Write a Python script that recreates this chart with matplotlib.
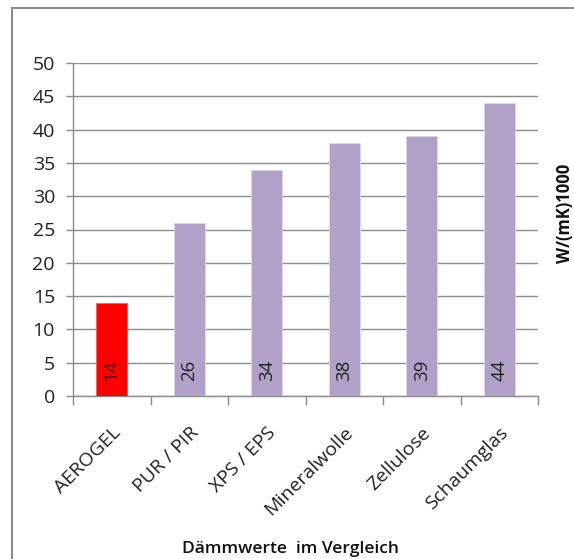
import matplotlib
matplotlib.use("Agg")
import matplotlib.pyplot as plt
from matplotlib.patches import Rectangle

categories = ["AEROGEL", "PUR / PIR", "XPS / EPS", "Mineralwolle", "Zellulose", "Schaumglas"]
values = [14, 26, 34, 38, 39, 44]
colors = ["#FF0000", "#B1A0C7", "#B1A0C7", "#B1A0C7", "#B1A0C7", "#B1A0C7"]
yticks = [0, 5, 10, 15, 20, 25, 30, 35, 40, 45, 50]

plt.rcParams['font.family'] = ['Open Sans', 'DejaVu Sans']

W, H = 574, 559
fig = plt.figure(figsize=(W / 100, H / 100), dpi=100)
ax = fig.add_axes([73 / W, 1 - 396 / H, (538 - 73) / W, (396 - 63) / H])

x = list(range(len(categories)))
bars = ax.bar(x, values, width=0.4, color=colors, edgecolor="#DDD6E8", linewidth=0.6, zorder=3)
for b in bars[:1]:
    b.set_edgecolor("#FF6060")

for xi, v in zip(x, values):
    ax.text(xi, 2.3, str(v), rotation=90, ha="center", va="bottom",
            fontsize=13.5, color="#222222", zorder=4)

ax.set_xlim(-0.5, len(categories) - 0.5)
ax.set_ylim(0, 50)
ax.set_yticks(yticks)
ax.set_yticklabels([str(t) for t in yticks], fontsize=14, color="#222222")
ax.yaxis.grid(True, color="#8C8C8C", linewidth=1, zorder=0)
ax.set_axisbelow(True)

ax.set_xticks([i - 0.5 for i in range(len(categories) + 1)], minor=False)
ax.set_xticklabels([])
ax.tick_params(axis="x", which="major", length=6.5, color="#8C8C8C", width=1)
ax.set_xticks(x, minor=True)
ax.set_xticklabels(categories, minor=True, rotation=45, ha="right",
                   rotation_mode="anchor", fontsize=14, color="#222222")
ax.tick_params(axis="x", which="minor", length=0, pad=20)
ax.tick_params(axis="y", length=5, color="#8C8C8C", width=1, pad=8)

for s in ["top", "right"]:
    ax.spines[s].set_visible(False)
for s in ["left", "bottom"]:
    ax.spines[s].set_color("#8C8C8C")
    ax.spines[s].set_linewidth(1)

fig.text(290 / W, 1 - 549 / H, "Dämmwerte  im Vergleich", ha="center", va="center",
         fontsize=12.5, fontweight="semibold", color="#111111")
fig.text(565 / W, 1 - 213 / H, "W/(mK)1000", ha="center", va="center", rotation=90,
         fontsize=12, fontweight="bold", color="#111111")

fig.patches.append(Rectangle((12 / W, -0.1), 1.2, 1 - 8 / H + 0.1, transform=fig.transFigure,
                             fill=False, edgecolor="#8C8C8C", linewidth=1.5))

fig.savefig("out.png", dpi=100)
